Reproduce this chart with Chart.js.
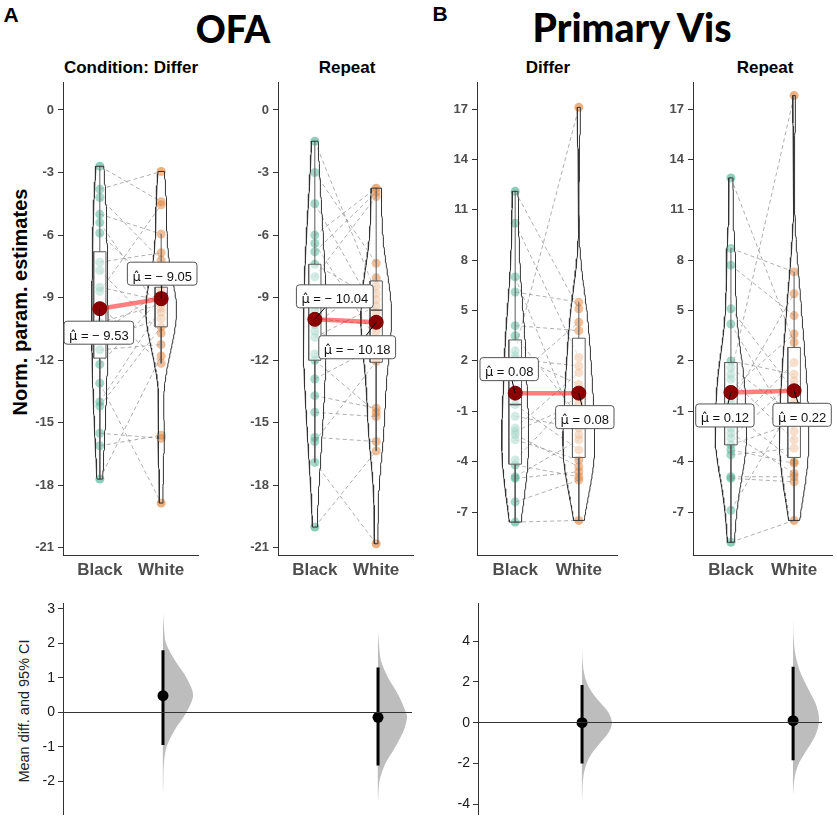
<!DOCTYPE html>
<html><head><meta charset="utf-8">
<script src="https://cdn.jsdelivr.net/npm/chart.js@4.4.1/dist/chart.umd.min.js"></script>
<style>
body{margin:0;background:#fff;}
#wrap{position:relative;width:837px;height:820px;overflow:hidden;font-family:"Liberation Sans",Arial,sans-serif;background:#fff;}
.t{position:absolute;transform:translate(-50%,-50%);white-space:nowrap;line-height:1;color:#000;}
canvas{position:absolute;}
</style></head><body>
<div id="wrap">
  <div class="t" style="left:11px;top:14px;font-weight:bold;font-size:21px;">A</div>
  <div class="t" style="left:233px;top:28px;font-family:Lato,'Open Sans',sans-serif;font-weight:900;font-size:37px;">OFA</div>
  <div class="t" style="left:440px;top:13px;font-weight:bold;font-size:21px;">B</div>
  <div class="t" style="left:632px;top:27px;font-family:Lato,'Open Sans',sans-serif;font-weight:900;font-size:39px;">Primary Vis</div>
  <div class="t" style="left:131px;top:67px;font-weight:bold;font-size:17px;">Condition: Differ</div>
  <div class="t" style="left:347px;top:67px;font-weight:bold;font-size:17px;">Repeat</div>
  <div class="t" style="left:548px;top:67px;font-weight:bold;font-size:17px;">Differ</div>
  <div class="t" style="left:765px;top:67px;font-weight:bold;font-size:17px;">Repeat</div>
  <div class="t" style="left:20px;top:302px;transform:translate(-50%,-50%) rotate(-90deg);font-weight:bold;font-size:20px;">Norm. param. estimates</div>
  <div class="t" style="left:24px;top:711px;transform:translate(-50%,-50%) rotate(-90deg);font-size:14.5px;color:#222;">Mean diff. and 95% CI</div>
  <canvas id="c1" width="193" height="518" style="left:13px;top:72px;"></canvas>
  <canvas id="c2" width="193" height="518" style="left:228px;top:72px;"></canvas>
  <canvas id="c3" width="198" height="518" style="left:427px;top:72px;"></canvas>
  <canvas id="c4" width="197" height="518" style="left:643px;top:72px;"></canvas>
  <canvas id="c5" width="407" height="225" style="left:13px;top:595px;"></canvas>
  <canvas id="c6" width="402" height="225" style="left:428px;top:595px;"></canvas>
</div>
<script>
// ---------------- DATA ----------------
const groups = ['Black', 'White'];
const conditions = ['Differ', 'Repeat'];

// paired subjects: index i of Black pairs with index i of White
const ofaDifferBlack = [-2.7, -3.8, -4.2, -5.0, -5.4, -5.9, -7.3, -7.7, -8.5, -8.7, -9.4, -10.2, -10.7, -11.0, -11.5, -12.2, -13.1, -14.0, -14.2, -15.5, -16.1, -17.7];
const ofaDifferWhite = [-4.4, -2.95, -7.2, -5.95, -9.7, -8.85, -6.85, -10.7, -9.15, -4.55, -12.15, -9.3, -8.7, -10.0, -11.25, -9.0, -18.85, -9.5, -10.4, -15.75, -15.6, -11.8];
const ofaRepeatBlack = [-1.5, -3.0, -4.5, -6.0, -6.4, -6.8, -7.4, -8.0, -9.6, -10.0, -10.3, -10.6, -10.9, -11.7, -12.0, -12.9, -13.7, -14.5, -15.7, -15.9, -16.9, -20.0];
const ofaRepeatWhite = [-8.8, -7.35, -9.7, -3.75, -11.0, -3.95, -9.1, -4.15, -8.45, -10.3, -8.05, -11.65, -9.4, -10.6, -14.5, -11.35, -14.3, -14.7, -15.9, -12.05, -20.8, -16.35];
const pvDifferBlack = [12.1, 10.2, 7.0, 6.1, 4.1, 3.5, 2.6, 2.3, 2.1, 1.0, -0.6, -1.3, -2.0, -2.2, -2.4, -2.7, -3.9, -4.2, -4.9, -5.0, -6.4, -7.6];
const pvDifferWhite = [5.1, 2.2, -2.4, 5.5, 3.8, -1.3, 17.1, 0.6, 1.7, 4.3, -3.3, -2.0, 1.3, -0.5, -4.3, -3.9, 0.1, -4.9, -2.7, -4.6, -5.1, -7.5];
const pvRepeatBlack = [12.9, 8.7, 7.7, 5.1, 4.2, 2.0, 1.6, 1.2, 0.9, 0.3, -0.5, -1.0, -2.0, -2.3, -2.6, -3.0, -3.3, -3.6, -4.9, -5.0, -6.9, -8.8];
const pvRepeatWhite = [3.1, 7.3, 4.7, 0.2, -2.2, 1.2, -1.2, 17.8, -2.7, 3.6, 6.0, -4.0, 1.9, -4.7, 0.8, -1.7, -4.1, -3.2, -4.9, -5.2, -0.5, -7.5];

// group means shown in the labels [Black, White]
const ofaDifferMeans = [-9.53, -9.05];
const ofaRepeatMeans = [-10.04, -10.18];
const pvDifferMeans = [0.08, 0.08];
const pvRepeatMeans = [0.12, 0.22];

// box hinges [lower, median, upper] for [Black, White]
const ofaDifferBoxes = [[-11.9, -9.6, -6.8], [-10.4, -8.8, -8.5]];
const ofaRepeatBoxes = [[-12.0, -10.0, -7.4], [-12.1, -9.6, -8.2]];
const pvDifferBoxes = [[-4.15, -0.6, 3.25], [-3.75, 0.1, 3.35]];
const pvRepeatBoxes = [[-3.0, -0.8, 1.9], [-3.75, -0.5, 2.8]];

const ofaTicks = [0, -3, -6, -9, -12, -15, -18, -21];
const pvTicks = [17, 14, 11, 8, 5, 2, -1, -4, -7];

// paired mean differences and 95% CI, [Differ, Repeat]
const ofaDiffMean = [0.48, -0.15];
const ofaDiffCiLow = [-0.95, -1.55];
const ofaDiffCiHigh = [1.8, 1.3];
const pvDiffMean = [0.0, 0.1];
const pvDiffCiLow = [-2.0, -1.85];
const pvDiffCiHigh = [1.85, 2.75];
const ofaDiffTicks = [3, 2, 1, 0, -1, -2];
const pvDiffTicks = [4, 2, 0, -2, -4];

// bootstrap distribution outlines: value and relative width
const ofaDifferBootY = [2.9, 2.5, 2.0, 1.5, 1.0, 0.5, 0.0, -0.5, -1.0, -1.5, -2.0, -2.4];
const ofaDifferBootW = [0, 0.03, 0.1, 0.4, 0.78, 1.0, 0.78, 0.4, 0.12, 0.03, 0.01, 0];
const ofaRepeatBootY = [2.35, 2.0, 1.5, 1.0, 0.5, 0.0, -0.15, -0.5, -1.0, -1.5, -2.0, -2.65];
const ofaRepeatBootW = [0, 0.03, 0.1, 0.35, 0.7, 0.96, 1.0, 0.9, 0.6, 0.25, 0.05, 0];
const pvDifferBootY = [3.6, 3.0, 2.5, 2.0, 1.5, 1.0, 0.5, 0.0, -0.5, -1.0, -1.5, -2.0, -2.5, -3.0, -3.85];
const pvDifferBootW = [0, 0.02, 0.06, 0.15, 0.33, 0.6, 0.88, 1.0, 0.88, 0.6, 0.33, 0.15, 0.06, 0.02, 0];
const pvRepeatBootY = [5.15, 4.5, 4.0, 3.5, 3.0, 2.5, 2.0, 1.5, 1.0, 0.5, 0.1, -0.5, -1.0, -1.5, -2.0, -2.5, -3.0, -3.55];
const pvRepeatBootW = [0, 0.01, 0.03, 0.07, 0.15, 0.27, 0.45, 0.65, 0.85, 0.97, 1.0, 0.9, 0.7, 0.45, 0.22, 0.09, 0.03, 0];

// ---------------- STYLE ----------------
const FONT = '"Liberation Sans", Arial, sans-serif';
Chart.defaults.font.family = FONT;
const VIOLIN_HALF = 0.25, BOX_HALF = 0.1;
const COL_BLACK = 'rgba(27,158,119,0.5)', COL_WHITE = 'rgba(217,95,2,0.5)';

// ---------------- helpers ----------------
function q7(s, p) { const h = (s.length - 1) * p, lo = Math.floor(h), hi = Math.min(lo + 1, s.length - 1); return s[lo] + (h - lo) * (s[hi] - s[lo]); }
function bwNrd0(v) {
  const n = v.length, m = v.reduce((a, b) => a + b, 0) / n;
  const sd = Math.sqrt(v.reduce((a, b) => a + (b - m) ** 2, 0) / (n - 1));
  const s = [...v].sort((a, b) => a - b);
  const lo = Math.min(sd, (q7(s, 0.75) - q7(s, 0.25)) / 1.34) || sd || 1;
  return 0.9 * lo * Math.pow(n, -0.2);
}
function densityAt(v, ys, bw) {
  return ys.map(y => v.reduce((a, x) => a + Math.exp(-0.5 * ((y - x) / bw) ** 2), 0) / (v.length * bw * Math.sqrt(2 * Math.PI)));
}
function fmtValue(m) { return ' = ' + (m < 0 ? '− ' + Math.abs(m).toFixed(2) : m.toFixed(2)); }

const meanLabelPlugin = {
  id: 'meanLabels',
  afterDatasetsDraw(chart, args, opts) {
    if (!opts || !opts.means) return;
    const { ctx } = chart, xs = chart.scales.x, ys = chart.scales.y;
    ctx.save();
    opts.means.forEach((m, i) => {
      const px = xs.getPixelForValue(i), py = ys.getPixelForValue(m);
      const cx = px + opts.offsets[i][0], cy = py + opts.offsets[i][1];
      const sym = 'μ̂', val = fmtValue(m);
      const symFont = '13px "DejaVu Sans", sans-serif', valFont = '13px ' + FONT;
      ctx.font = symFont; const ws = ctx.measureText(sym).width;
      ctx.font = valFont; const wv = ctx.measureText(val).width;
      const w = ws + wv + 10, h = 23;
      ctx.strokeStyle = '#000'; ctx.lineWidth = 1;
      ctx.beginPath(); ctx.moveTo(px, py); ctx.lineTo(cx, cy); ctx.stroke();
      ctx.beginPath(); ctx.roundRect(cx - w / 2, cy - h / 2, w, h, 3);
      ctx.fillStyle = '#fff'; ctx.fill(); ctx.strokeStyle = '#555'; ctx.stroke();
      ctx.fillStyle = '#111'; ctx.textAlign = 'left'; ctx.textBaseline = 'alphabetic';
      const x0 = cx - w / 2 + 5, base = cy + 7;
      ctx.font = symFont; ctx.fillText(sym, x0, base);
      ctx.font = valFont; ctx.fillText(val, x0 + ws, base);
    });
    ctx.restore();
  }
};

function noPad(s) { s.paddingTop = 0; s.paddingBottom = 0; }

function buildUpper(id, black, white, means, boxes, ticks, yMin, yMax, offsets) {
  const vals = [black, white];
  const dens = vals.map(v => {
    const s = [...v].sort((a, b) => a - b), bw = bwNrd0(v), N = 140, ys = [];
    for (let i = 0; i < N; i++) ys.push(s[0] + (s[s.length - 1] - s[0]) * i / (N - 1));
    return { ys, d: densityAt(v, ys, bw) };
  });
  const maxD = Math.max(...dens.map(o => Math.max(...o.d)));
  const ds = [];
  const meanPts = means.map((m, i) => ({ x: i, y: m }));
  ds.push({ type: 'scatter', data: meanPts, pointRadius: 7, backgroundColor: '#8b0000', borderColor: '#7a0000', borderWidth: 1, clip: false });
  ds.push({ type: 'line', data: meanPts, borderColor: 'rgba(255,0,0,0.5)', borderWidth: 4.5, pointRadius: 0, fill: false, clip: false });
  dens.forEach((o, g) => {
    const right = o.ys.map((y, k) => ({ x: g + VIOLIN_HALF * o.d[k] / maxD, y }));
    const left = o.ys.map((y, k) => ({ x: g - VIOLIN_HALF * o.d[k] / maxD, y })).reverse();
    ds.push({ type: 'line', data: [...right, ...left, right[0]], borderColor: '#333', borderWidth: 1, backgroundColor: 'rgba(255,255,255,0.2)', fill: 'shape', pointRadius: 0, tension: 0, clip: false });
  });
  boxes.forEach((b, g) => {
    const [q1, med, q3] = b, iqr = q3 - q1, v = vals[g];
    const upW = Math.max(...v.filter(x => x <= q3 + 1.5 * iqr));
    const loW = Math.min(...v.filter(x => x >= q1 - 1.5 * iqr));
    ds.push({ type: 'line', data: [{ x: g - BOX_HALF, y: med }, { x: g + BOX_HALF, y: med }], borderColor: '#333', borderWidth: 1.6, pointRadius: 0, fill: false });
    ds.push({ type: 'line', data: [{ x: g - BOX_HALF, y: q1 }, { x: g + BOX_HALF, y: q1 }, { x: g + BOX_HALF, y: q3 }, { x: g - BOX_HALF, y: q3 }, { x: g - BOX_HALF, y: q1 }], borderColor: '#333', borderWidth: 1, backgroundColor: 'rgba(255,255,255,0.5)', fill: 'shape', pointRadius: 0 });
    ds.push({ type: 'line', data: [{ x: g, y: q3 }, { x: g, y: upW }, { x: g, y: null }, { x: g, y: q1 }, { x: g, y: loW }], borderColor: '#333', borderWidth: 1, pointRadius: 0, fill: false, spanGaps: false, clip: false });
  });
  const pairs = [];
  black.forEach((b, i) => { pairs.push({ x: 0, y: b }, { x: 1, y: white[i] }, { x: 0.5, y: null }); });
  ds.push({ type: 'line', data: pairs, borderColor: 'rgba(110,110,110,0.55)', borderWidth: 1, borderDash: [4, 3], pointRadius: 0, spanGaps: false, fill: false, clip: false });
  ds.push({ type: 'scatter', data: black.map(v => ({ x: 0, y: v })), pointRadius: 4.5, backgroundColor: COL_BLACK, borderWidth: 0, clip: false });
  ds.push({ type: 'scatter', data: white.map(v => ({ x: 1, y: v })), pointRadius: 4.5, backgroundColor: COL_WHITE, borderWidth: 0, clip: false });

  new Chart(document.getElementById(id), {
    type: 'scatter',
    data: { datasets: ds },
    plugins: [meanLabelPlugin],
    options: {
      responsive: false, animation: false, devicePixelRatio: 1, events: [],
      layout: { padding: { top: 10, right: 6, left: 0, bottom: 0 } },
      plugins: { legend: { display: false }, tooltip: { enabled: false }, meanLabels: { means, offsets } },
      scales: {
        x: {
          type: 'linear', min: -0.6, max: 1.6,
          afterFit: s => { s.height = 35; },
          afterBuildTicks: s => { s.ticks = groups.map((g, i) => ({ value: i })); },
          ticks: { callback: v => groups[v], font: { size: 17, weight: 'bold' }, color: '#4d4d4d', padding: 5, autoSkip: false, maxRotation: 0 },
          grid: { drawOnChartArea: false, drawTicks: false },
          border: { display: true, color: '#333', width: 1 }
        },
        y: {
          type: 'linear', min: yMin, max: yMax,
          afterFit: s => { s.width = 50; noPad(s); },
          afterBuildTicks: s => { s.ticks = ticks.map(v => ({ value: v })); },
          ticks: { callback: v => String(v), font: { size: 13, weight: 'bold' }, color: '#4d4d4d', padding: 4, autoSkip: false },
          grid: { drawOnChartArea: false, tickLength: 5, tickColor: '#333' },
          border: { display: true, color: '#333', width: 1 }
        }
      }
    }
  });
}

function buildLower(id, means, lo, hi, bootYs, bootWs, bootMax, ticks, yMin, yMax, xMin, xMax) {
  const ds = [];
  const pos = conditions.map((c, i) => i + 1);
  ds.push({ type: 'scatter', data: means.map((m, i) => ({ x: pos[i], y: m })), pointRadius: 5.5, backgroundColor: '#000', borderWidth: 0, clip: false });
  const ci = [];
  means.forEach((m, i) => { ci.push({ x: pos[i], y: lo[i] }, { x: pos[i], y: hi[i] }, { x: pos[i], y: null }); });
  ds.push({ type: 'line', data: ci, borderColor: '#000', borderWidth: 3, pointRadius: 0, spanGaps: false, fill: false });
  bootYs.forEach((ys, i) => {
    const pts = ys.map((y, k) => ({ x: pos[i] + bootMax[i] * bootWs[i][k], y }));
    pts.push({ x: pos[i], y: ys[0] });
    ds.push({ type: 'line', data: pts, borderWidth: 0, borderColor: 'rgba(0,0,0,0)', backgroundColor: '#bdbdbd', fill: 'shape', pointRadius: 0, tension: 0.3, clip: false });
  });
  new Chart(document.getElementById(id), {
    type: 'scatter',
    data: { datasets: ds },
    options: {
      responsive: false, animation: false, devicePixelRatio: 1, events: [],
      layout: { padding: { top: 8, right: 8, left: 0, bottom: 0 } },
      plugins: { legend: { display: false }, tooltip: { enabled: false } },
      scales: {
        x: { type: 'linear', min: xMin, max: xMax, display: false },
        y: {
          type: 'linear', min: yMin, max: yMax,
          afterFit: s => { s.width = 50; noPad(s); },
          afterBuildTicks: s => { s.ticks = ticks.map(v => ({ value: v })); },
          ticks: { callback: v => String(v), font: { size: 14 }, color: '#1a1a1a', padding: 3, autoSkip: false },
          grid: { z: 1, color: c => (c.tick && c.tick.value === 0 ? '#333' : 'rgba(0,0,0,0)'), tickColor: '#333', tickLength: 5, lineWidth: 1 },
          border: { display: true, color: '#333', width: 1, z: 1 }
        }
      }
    }
  });
}

buildUpper('c1', ofaDifferBlack, ofaDifferWhite, ofaDifferMeans, ofaDifferBoxes, ofaTicks, -21.34, 1.34, [[-1, 24], [1, -25]]);
buildUpper('c2', ofaRepeatBlack, ofaRepeatWhite, ofaRepeatMeans, ofaRepeatBoxes, ofaTicks, -21.34, 1.34, [[20, -23], [-19, 25]]);
buildUpper('c3', pvDifferBlack, pvDifferWhite, pvDifferMeans, pvDifferBoxes, pvTicks, -9.56, 18.61, [[-6, -24], [6, 24]]);
buildUpper('c4', pvRepeatBlack, pvRepeatWhite, pvRepeatMeans, pvRepeatBoxes, pvTicks, -9.56, 18.61, [[-6, 23], [8, 24]]);

buildLower('c5', ofaDiffMean, ofaDiffCiLow, ofaDiffCiHigh, [ofaDifferBootY, ofaRepeatBootY], [ofaDifferBootW, ofaRepeatBootW], [0.14, 0.135], ofaDiffTicks, -2.97, 3.17, 0.535, 2.158);
buildLower('c6', pvDiffMean, pvDiffCiLow, pvDiffCiHigh, [pvDifferBootY, pvRepeatBootY], [pvDifferBootW, pvRepeatBootW], [0.142, 0.123], pvDiffTicks, -4.51, 5.88, 0.507, 2.137);
</script>
</body></html>
